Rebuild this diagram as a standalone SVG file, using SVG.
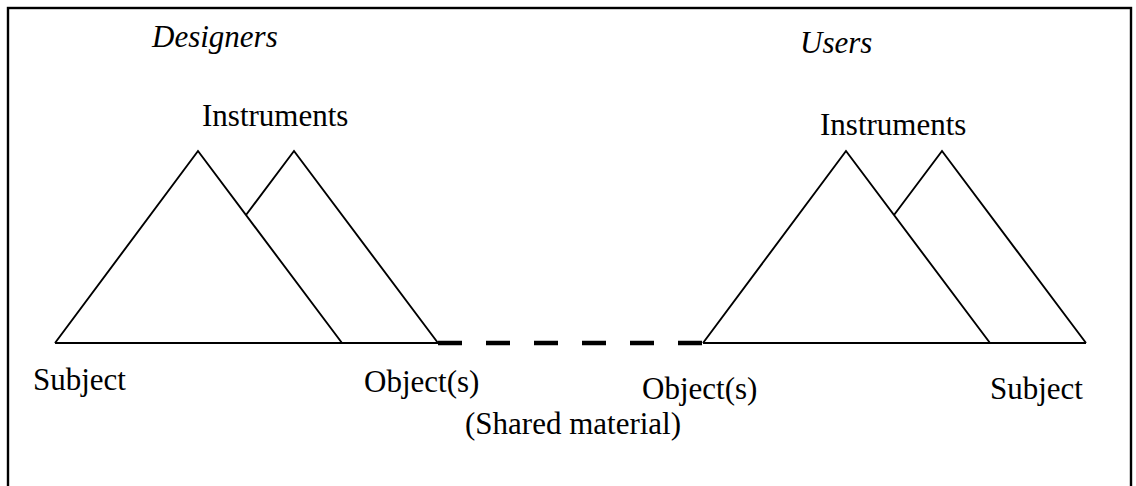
<svg xmlns="http://www.w3.org/2000/svg" width="1136" height="486" viewBox="0 0 1136 486">
<style>
.ln{fill:none;stroke:#000;stroke-width:1.9;stroke-linejoin:miter}
.t{font-family:"Liberation Serif","Times New Roman",serif;font-size:31px;fill:#000}
.it{font-style:italic}
.dash{fill:none;stroke:#000;stroke-width:4.5;stroke-dasharray:24 24}
</style>
<rect x="0" y="0" width="1136" height="486" fill="#fff"/>
<rect x="8" y="8" width="1123" height="500" fill="none" stroke="#000" stroke-width="2.4"/>
<g id="designers">
<text class="t it" x="152" y="47">Designers</text>
<text class="t" x="202" y="126">Instruments</text>
<path class="ln" d="M55,343 L198,151 L342,343 M246,215 L294,151 L438,343 M55,343 H438"/>
<text class="t" x="33" y="390">Subject</text>
<text class="t" x="364" y="392">Object(s)</text>
</g>
<g id="users">
<text class="t it" x="800" y="53">Users</text>
<text class="t" x="820" y="135">Instruments</text>
<path class="ln" d="M703,343 L846,151 L990,343 M894,215 L942,151 L1086,343 M703,343 H1086"/>
<text class="t" x="642" y="399">Object(s)</text>
<text class="t" x="990" y="399">Subject</text>
</g>
<g id="connectors">
<path class="dash" d="M438,343 H702"/>
</g>
<g id="shared">
<text class="t" x="465" y="434">(Shared material)</text>
</g>
</svg>
